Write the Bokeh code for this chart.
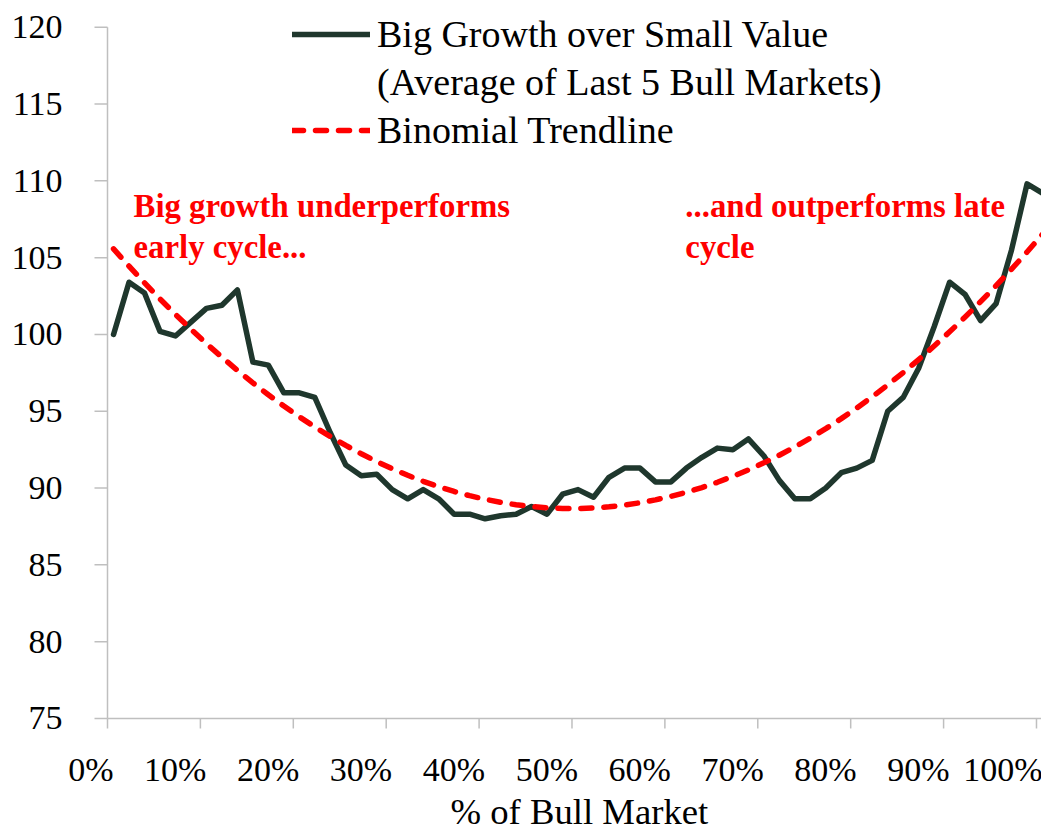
import math
import numpy as np
from bokeh.plotting import figure
from bokeh.models import (Range1d, Legend, LegendItem, Label, LabelSet,
                          ColumnDataSource, Grid)
from bokeh.embed import file_html
from bokeh.resources import INLINE

# ---------------- data ----------------
series_name_1 = "Big Growth over Small Value"
series_name_2 = "(Average of Last 5 Bull Markets)"
trend_name = "Binomial Trendline"

# % of bull market at which each observation sits (61 evenly spaced points)
pct_start = 0.65
pct_step = 100.0 / 60.0
values = [100.0, 103.4, 102.7, 100.2, 99.9, 100.8, 101.7, 101.9, 102.9, 98.2,
          98.0, 96.2, 96.2, 95.9, 93.6, 91.5, 90.8, 90.9, 89.9, 89.3,
          89.9, 89.3, 88.3, 88.3, 88.0, 88.2, 88.3, 88.8, 88.3, 89.6,
          89.9, 89.4, 90.7, 91.3, 91.3, 90.4, 90.4, 91.3, 92.0, 92.6,
          92.5, 93.2, 92.1, 90.5, 89.3, 89.3, 90.0, 91.0, 91.3, 91.8,
          95.0, 95.9, 97.8, 100.5, 103.4, 102.6, 100.9, 102.0, 105.5, 109.8,
          109.2]
pct = [pct_start + i * pct_step for i in range(len(values))]

x_ticks = [0, 10, 20, 30, 40, 50, 60, 70, 80, 90, 100]
x_tick_labels = ["0%", "10%", "20%", "30%", "40%", "50%", "60%", "70%", "80%", "90%", "100%"]
y_ticks = [75, 80, 85, 90, 95, 100, 105, 110, 115, 120]
y_tick_labels = ["75", "80", "85", "90", "95", "100", "105", "110", "115", "120"]
y_min, y_max = 75, 120
x_origin = 0

x_title = "% of Bull Market"
note_left = ["Big growth underperforms", "early cycle..."]
note_right = ["...and outperforms late", "cycle"]

# 2nd-order polynomial trendline fitted to the series
coef = np.polyfit(pct, values, 2)
trend = list(np.polyval(coef, pct))

# ---------------- styling ----------------
FONT = "Liberation Serif"
DARK = "#1f372d"
RED = "#ff0000"
AXIS = "#bfbfbf"

X_END = 100.54
# axes (lines, ticks, labels, title) are drawn inside the frame, Excel-style
p = figure(width=1041, height=834, output_backend="svg", toolbar_location=None,
           x_axis_location=None, y_axis_location=None,
           x_range=Range1d(-11.518, X_END), y_range=Range1d(67.448, 121.478),
           min_border_left=0, min_border_top=4, min_border_right=0,
           min_border_bottom=0)
p.outline_line_color = None
for g in p.select(type=Grid):
    g.visible = False
p.background_fill_color = "white"

# ---- axis lines and ticks ----
p.segment(x0=[x_origin], y0=[y_min], x1=[x_origin], y1=[y_max],
          line_color=AXIS, line_width=1.5)
p.segment(x0=[x_origin], y0=[y_min], x1=[X_END], y1=[y_min],
          line_color=AXIS, line_width=1.5)

xt_src = ColumnDataSource(dict(x=x_ticks, y=[y_min] * len(x_ticks),
                               label=x_tick_labels))
yt_src = ColumnDataSource(dict(x=[x_origin] * len(y_ticks), y=y_ticks,
                               label=y_tick_labels))
p.ray(x="x", y="y", source=xt_src, length=10, length_units="screen",
      angle=-math.pi / 2, line_color=AXIS, line_width=1.5)
p.ray(x="x", y="y", source=yt_src, length=13, length_units="screen",
      angle=math.pi, line_color=AXIS, line_width=1.5)

p.add_layout(LabelSet(x="x", y="y", text="label", source=xt_src,
                      x_offset=6, y_offset=-63, text_align="right",
                      text_baseline="alphabetic", text_font=FONT,
                      text_font_size="34px", text_color="black"))
p.add_layout(LabelSet(x="x", y="y", text="label", source=yt_src,
                      x_offset=-45, y_offset=0, text_align="right",
                      text_baseline="middle", text_font=FONT,
                      text_font_size="34px", text_color="black"))
title_src = ColumnDataSource(dict(x=[50.8], y=[y_min], label=[x_title]))
p.add_layout(LabelSet(x="x", y="y", text="label", source=title_src,
                      y_offset=-106, text_align="center",
                      text_baseline="alphabetic", text_font=FONT,
                      text_font_size="36.7px", text_color="black"))

# ---- data ----
src = ColumnDataSource(dict(x=pct, y=values, t=trend))
r_main = p.line("x", "y", source=src, line_color=DARK, line_width=5.5,
                line_join="round", line_cap="round")
r_trend = p.line("x", "t", source=src, line_color=RED, line_width=5.5,
                 line_dash="11 12", line_cap="round", line_join="round")
r_dummy = p.line(x=[], y=[], line_alpha=0)

# legend
legend = Legend(items=[
    LegendItem(label=series_name_1, renderers=[r_main]),
    LegendItem(label=series_name_2, renderers=[r_dummy]),
    LegendItem(label=trend_name, renderers=[r_trend]),
], location=(292, 680), orientation="vertical")
legend.border_line_color = None
legend.background_fill_alpha = 0
legend.padding = 0
legend.margin = 0
legend.spacing = 0
legend.glyph_width = 78
legend.glyph_height = 48
legend.label_standoff = 7
legend.label_text_font = FONT
legend.label_text_font_size = "38px"
legend.label_text_color = "black"
legend.label_height = 48
p.add_layout(legend)

# annotations
for txt, xx, yy in [(note_left[0], 2.8, 108.33), (note_left[1], 2.8, 105.66),
                    (note_right[0], 62.2, 108.33), (note_right[1], 62.2, 105.66)]:
    p.add_layout(Label(x=xx, y=yy, text=txt, text_font=FONT,
                       text_font_size="32.8px", text_font_style="bold",
                       text_color=RED, text_baseline="alphabetic"))

open("out.html", "w").write(file_html(p, INLINE))
